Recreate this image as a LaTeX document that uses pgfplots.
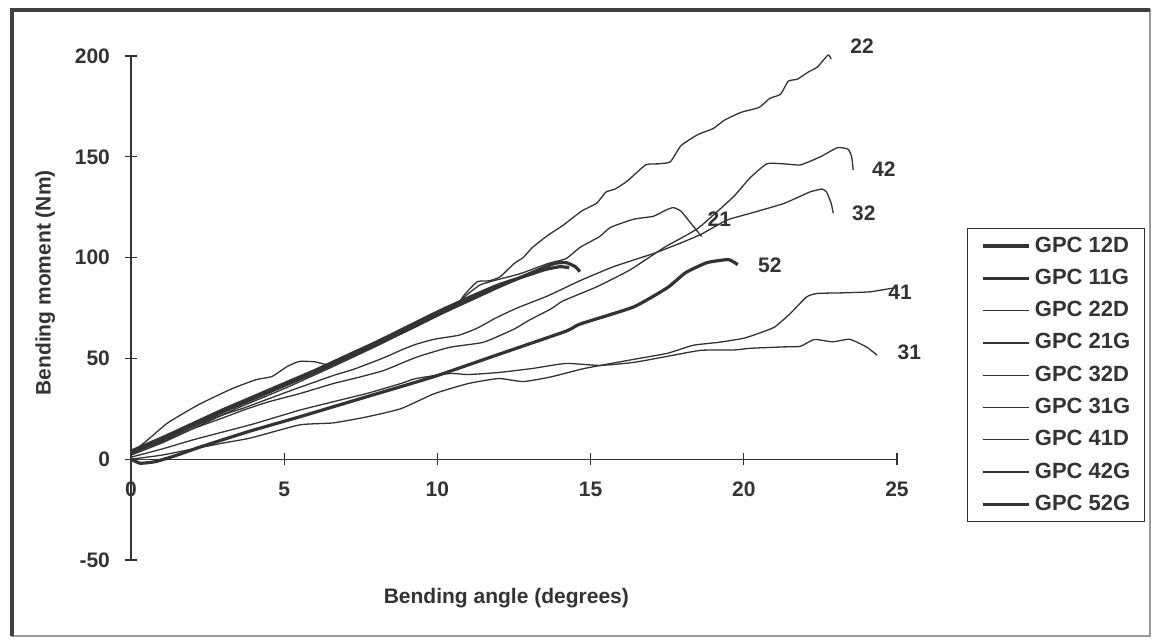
\documentclass[border=0pt]{standalone}
\usepackage{pgfplots}
\pgfplotsset{compat=1.18}
\usepackage{fontspec}
\setmainfont{Liberation Sans}
\definecolor{ln}{HTML}{333333}
\newcommand{\lbl}{\fontsize{10.5}{12}\selectfont\bfseries}
\newcommand{\leg}{\fontsize{11}{12}\selectfont\bfseries}
\begin{document}
\begin{tikzpicture}
\useasboundingbox (0,0) rectangle (576.5pt,320pt);
\fill[white] (0,0) rectangle (576.5pt,320pt);
\draw[line width=0.8pt, black!40] (6pt,2pt) rectangle (575pt,315pt);
\draw[line width=2pt, black!75] (6pt,2pt) -- (6pt,315pt) -- (575pt,315pt);
\begin{axis}[
  at={(65.5pt,40pt)}, anchor=south west,
  scale only axis, width=383pt, height=252pt,
  xmin=0, xmax=25, ymin=-50, ymax=200,
  enlargelimits=false, clip=false,
  axis lines=middle,
  axis line style={-, ln, line width=0.6pt},
  hide obscured x ticks=false, hide obscured y ticks=false,
  xtick={0,5,...,25}, ytick={-50,0,...,200},
  tick align=center, major tick length=6pt,
  tick style={ln, line width=0.6pt},
  /pgf/number format/assume math mode=true,
  tick label style={font=\lbl, text=ln},
  xticklabel style={yshift=-5pt},
  yticklabel style={xshift=-4pt},
  xlabel={Bending angle (degrees)},
  ylabel={Bending moment (Nm)},
  xlabel style={at={(axis description cs:0.49,-0.075)}, anchor=center, font=\lbl, text=ln},
  ylabel style={at={(axis description cs:-0.112,0.55)}, anchor=center, rotate=90, font=\lbl, text=ln},
  legend style={at={(axis description cs:1.0914,0.6587)}, anchor=north west,
    draw=ln, line width=0.7pt, font=\leg, text=ln,
    nodes={inner sep=0pt, text height=8pt, text depth=2pt},
    row sep=6.15pt, column sep=2pt, inner xsep=7pt, inner ysep=3.65pt},
  legend cell align=left,
  legend image code/.code={\draw[#1] (0pt,0pt) -- (23pt,0pt);},
  thin/.style={ln, line width=0.65pt, smooth, tension=0.3},
  thick/.style={ln, line width=1.6pt, smooth, tension=0.3},
]
% GPC 12D
\addplot[thick] coordinates {(0,3) (1,9.5) (2,16.5) (3,23.5) (4,30) (5,36.5) (6,43) (7,50) (8,57) (9,64) (10,71.5) (11,78.5) (12,85.5) (13,92) (13.8,97) (14.2,97.5) (14.5,95.5) (14.65,93)};
% GPC 11G
\addplot[thick] coordinates {(0,4) (1,10.5) (2,17.5) (3,24.5) (4,31) (5,37.5) (6,44) (7,51) (8,58) (9,65.5) (10,73) (11,80) (12,86.5) (13,91.5) (13.5,94) (14,95.5) (14.3,95)};
% GPC 22D
\addplot[thin] coordinates {(0,3) (0.5,9) (1.2,18) (2.2,27) (3.3,35) (4.1,39.5) (4.6,41) (5.1,46) (5.5,48.5) (6,48.3) (6.4,47) (7,50) (8,57) (9,64.5) (10,72) (10.4,74.5) (10.65,76) (10.85,81) (11.3,88) (11.7,88.5) (12.05,90.5) (12.5,97) (12.8,100) (13.1,105) (13.6,111) (14.1,116) (14.7,123) (15.2,127) (15.5,132.5) (15.8,134) (16.2,138) (16.8,146) (17.2,146.5) (17.6,147.5) (17.95,155.5) (18.5,161) (19,164) (19.35,168) (19.9,172) (20.5,174.5) (20.85,179) (21.2,181) (21.45,187.5) (21.75,188.5) (22.1,192) (22.4,194.5) (22.75,200.5) (22.85,198.5)};
% GPC 21G
\addplot[thin] coordinates {(0,2) (1,8) (2,15) (3.5,25.5) (5,35) (6.6,46) (8,56) (9,63.5) (10,71) (10.5,75.5) (11,82) (11.4,86.5) (11.95,89) (12.7,92) (13.6,97) (14.2,99.5) (14.65,105) (15.3,110.5) (15.65,115) (16.4,119) (17.05,120.5) (17.45,123.5) (17.7,124.8) (17.95,123) (18.3,116.5) (18.62,110.5)};
% GPC 32D
\addplot[thin] coordinates {(0,3) (1,9) (2,16) (3,22) (3.7,25.5) (4.5,30) (5.3,34.5) (6.6,41.5) (7.25,44.5) (8.2,50) (8.8,54) (9.3,57) (9.9,59.5) (10.7,61.5) (11.3,65) (11.9,70) (12.6,75) (13.6,81) (14.65,88.5) (15.75,95.5) (17.05,102) (17.9,107) (18.6,111.5) (19.45,118.6) (20.2,121.9) (21.3,126.8) (22.15,132.5) (22.55,134) (22.7,132.5) (22.85,127) (22.92,122)};
% GPC 31G
\addplot[thin] coordinates {(0,1) (1,5) (2,9.5) (3,13.5) (4,17.5) (5.5,24.3) (6.6,28.5) (7.7,32.6) (8.8,37.5) (9.3,40) (10.4,42.5) (11,42) (12,43) (13.1,45) (14.2,47.5) (15.3,46.5) (16.4,48) (17.5,51) (18.6,54) (19.7,54.2) (20.2,55) (21.3,55.7) (21.85,56) (22.3,59.4) (22.9,58.2) (23.45,59.5) (24,55.7) (24.35,51.6)};
% GPC 41D
\addplot[thin] coordinates {(0,0) (1,2) (2,5) (3,8) (3.9,10.5) (5.5,17) (6.6,18) (7.7,21) (8.8,25) (9.9,32.5) (11,37.5) (12,40) (12.8,38.5) (13.7,40.8) (14.8,45) (16.4,49.5) (17.5,52.5) (18.35,56.5) (19.2,58) (20,60) (20.5,62.5) (21,65.5) (21.5,72) (22.05,80.5) (22.4,82.2) (23.2,82.5) (24.1,83) (24.8,84.7) (25,85)};
% GPC 42G
\addplot[thin] coordinates {(0,3) (1,8.5) (2,15) (3,20.5) (3.7,24.5) (4.5,28.5) (5.5,32.5) (6.6,37.5) (7.4,40.5) (8.25,44) (9.3,50.5) (10.4,55.5) (11.5,58) (12.5,64.5) (13,69) (13.7,74.5) (14.1,78.5) (15.2,85.5) (16.3,94) (17.4,105) (18.5,114.5) (19.65,130) (20.2,139.5) (20.75,146.5) (21.3,146.5) (21.85,146) (22.5,150) (23.05,154.5) (23.4,153.8) (23.52,150) (23.57,143.5)};
% GPC 52G
\addplot[thick] coordinates {(0,0) (0.3,-2) (0.8,-1.2) (1.5,2) (2.25,6) (3.9,14) (5.5,21) (7.7,31) (9.9,41) (12,52) (14.2,63.5) (14.65,67) (16.4,75.5) (17.5,85) (18.1,92.5) (18.8,97.5) (19.5,99) (19.8,96.5)};
\legend{GPC 12D,GPC 11G,GPC 22D,GPC 21G,GPC 32D,GPC 31G,GPC 41D,GPC 42G,GPC 52G}
\node[font=\lbl, text=ln] at (axis cs:23.86,205) {22};
\node[font=\lbl, text=ln] at (axis cs:24.57,144) {42};
\node[font=\lbl, text=ln] at (axis cs:23.92,122) {32};
\node[font=\lbl, text=ln] at (axis cs:19.2,119) {21};
\node[font=\lbl, text=ln] at (axis cs:20.85,96) {52};
\node[font=\lbl, text=ln] at (axis cs:25.1,83) {41};
\node[font=\lbl, text=ln] at (axis cs:25.4,52.8) {31};
\end{axis}
\end{tikzpicture}
\end{document}
